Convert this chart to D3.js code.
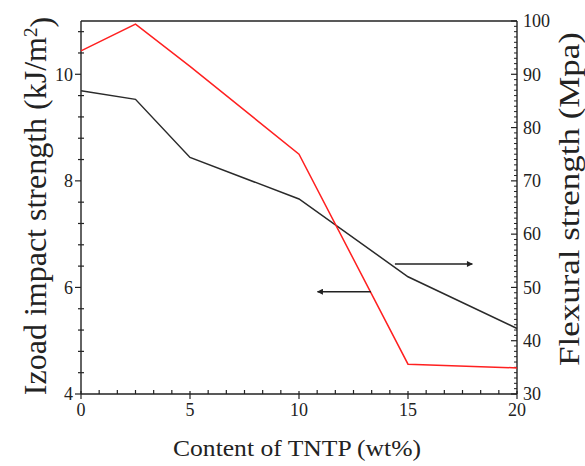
<!DOCTYPE html>
<html>
<head>
<meta charset="utf-8">
<script src="https://cdn.jsdelivr.net/npm/d3@7"></script>
<style>
  body { margin: 0; background: #fff; }
  text { font-family: "Liberation Serif", "Times New Roman", serif; fill: #222; }
</style>
</head>
<body>
<svg id="chart" width="585" height="466"></svg>
<script>
// data
const contents = [0, 2.5, 5, 10, 15, 20];
const impact = [10.44, 10.94, 10.15, 8.50, 4.56, 4.49];     // kJ/m2, left axis
const flexural = [86.9, 85.3, 74.4, 66.6, 52.0, 42.3];      // Mpa, right axis

const xTicks = [0, 5, 10, 15, 20];
const leftTicks = [4, 6, 8, 10];
const rightTicks = [30, 40, 50, 60, 70, 80, 90, 100];

const svg = d3.select("#chart");
const margin = { top: 21, right: 68, bottom: 72, left: 81 };
const width = 585 - margin.left - margin.right;
const height = 466 - margin.top - margin.bottom;

const g = svg.append("g")
    .attr("transform", `translate(${margin.left},${margin.top})`);

// scales
const x = d3.scaleLinear().domain([0, 20]).range([0, width]);
const yL = d3.scaleLinear().domain([4, 11]).range([height, 0]);
const yR = d3.scaleLinear().domain([30, 100]).range([height, 0]);

const axisColor = "#222";

// frame: left, bottom, right, top
g.append("line").attr("x1", 0).attr("x2", 0).attr("y1", 0).attr("y2", height)
    .attr("stroke", axisColor).attr("stroke-width", 1.4);
g.append("line").attr("x1", 0).attr("x2", width).attr("y1", height).attr("y2", height)
    .attr("stroke", axisColor).attr("stroke-width", 1.4);
g.append("line").attr("x1", width).attr("x2", width).attr("y1", 0).attr("y2", height)
    .attr("stroke", axisColor).attr("stroke-width", 1.4);
g.append("line").attr("x1", 0).attr("x2", width).attr("y1", 0).attr("y2", 0)
    .attr("stroke", axisColor).attr("stroke-width", 1.4);

// bottom ticks
const xMinor = d3.range(0, 24).map(i => i * 5 / 6).filter(v => v <= 20 && Math.abs(v - Math.round(v / 5) * 5) > 1e-6);
g.selectAll(".xminor").data(xMinor).enter().append("line")
    .attr("x1", d => x(d)).attr("x2", d => x(d))
    .attr("y1", height - 4).attr("y2", height)
    .attr("stroke", axisColor).attr("stroke-width", 1.2);
g.selectAll(".xmajor").data(xTicks).enter().append("line")
    .attr("x1", d => x(d)).attr("x2", d => x(d))
    .attr("y1", height - 3).attr("y2", height + 5)
    .attr("stroke", axisColor).attr("stroke-width", 1.2);
g.selectAll(".xlabel").data(xTicks).enter().append("text")
    .attr("x", d => x(d)).attr("y", height + 22)
    .attr("text-anchor", "middle")
    .style("font-size", "18px")
    .text(d => d);

// left ticks
const leftMinor = d3.range(4, 11.01, 0.4).filter(v => Math.abs(v - Math.round(v / 2) * 2) > 1e-6);
g.selectAll(".lminor").data(leftMinor).enter().append("line")
    .attr("x1", -3).attr("x2", 3)
    .attr("y1", d => yL(d)).attr("y2", d => yL(d))
    .attr("stroke", axisColor).attr("stroke-width", 1.2);
g.selectAll(".lmajor").data(leftTicks).enter().append("line")
    .attr("x1", -6).attr("x2", 0)
    .attr("y1", d => yL(d)).attr("y2", d => yL(d))
    .attr("stroke", axisColor).attr("stroke-width", 1.2);
g.selectAll(".llabel").data(leftTicks).enter().append("text")
    .attr("x", -8).attr("y", d => yL(d))
    .attr("dy", "0.35em")
    .attr("text-anchor", "end")
    .style("font-size", "18px")
    .text(d => d);

// right ticks
const rightMinor = d3.range(31, 100).filter(v => v % 10 !== 0);
g.selectAll(".rminor").data(rightMinor).enter().append("line")
    .attr("x1", width - 3).attr("x2", width)
    .attr("y1", d => yR(d)).attr("y2", d => yR(d))
    .attr("stroke", axisColor).attr("stroke-width", 1);
g.selectAll(".rmajor").data(rightTicks).enter().append("line")
    .attr("x1", width - 6).attr("x2", width)
    .attr("y1", d => yR(d)).attr("y2", d => yR(d))
    .attr("stroke", axisColor).attr("stroke-width", 1.2);
g.selectAll(".rlabel").data(rightTicks).enter().append("text")
    .attr("x", width + 6).attr("y", d => yR(d))
    .attr("dy", "0.35em")
    .style("font-size", "18px")
    .text(d => d);

// lines
const impactLine = d3.line().x((d, i) => x(contents[i])).y(d => yL(d));
const flexLine = d3.line().x((d, i) => x(contents[i])).y(d => yR(d));

g.append("path").datum(flexural)
    .attr("d", flexLine)
    .attr("fill", "none")
    .attr("stroke", "#2a2a2a")
    .attr("stroke-width", 1.5);

g.append("path").datum(impact)
    .attr("d", impactLine)
    .attr("fill", "none")
    .attr("stroke", "#ff2020")
    .attr("stroke-width", 1.5);

// arrows pointing to each curve's axis
svg.append("defs").append("marker")
    .attr("id", "head")
    .attr("viewBox", "0 0 10 10")
    .attr("refX", 9).attr("refY", 5)
    .attr("markerWidth", 8).attr("markerHeight", 6)
    .attr("markerUnits", "userSpaceOnUse")
    .attr("orient", "auto")
    .append("path")
    .attr("d", "M0,0 L10,5 L0,10 Z")
    .attr("fill", "#222");

g.append("line")
    .attr("x1", x(14.4)).attr("x2", x(17.95))
    .attr("y1", yL(6.44)).attr("y2", yL(6.44))
    .attr("stroke", "#222").attr("stroke-width", 1.5)
    .attr("marker-end", "url(#head)");

g.append("line")
    .attr("x1", x(13.3)).attr("x2", x(10.85))
    .attr("y1", yL(5.92)).attr("y2", yL(5.92))
    .attr("stroke", "#222").attr("stroke-width", 1.5)
    .attr("marker-end", "url(#head)");

// axis titles
svg.append("text")
    .attr("x", 297).attr("y", 456)
    .attr("text-anchor", "middle")
    .attr("textLength", 248)
    .attr("lengthAdjust", "spacingAndGlyphs")
    .style("font-size", "24px")
    .text("Content of TNTP (wt%)");

const leftTitle = svg.append("text")
    .attr("transform", "translate(46,206) rotate(-90)")
    .attr("text-anchor", "middle")
    .style("font-size", "32px");
leftTitle.append("tspan").text("Izoad impact strength (kJ/m");
leftTitle.append("tspan").attr("dy", "-0.45em").style("font-size", "19px").text("2");
leftTitle.append("tspan").attr("dy", "0.45em").text(")");

svg.append("text")
    .attr("transform", "translate(579,199) rotate(-90)")
    .attr("text-anchor", "middle")
    .attr("textLength", 334)
    .attr("lengthAdjust", "spacingAndGlyphs")
    .style("font-size", "30px")
    .text("Flexural strength (Mpa)");
</script>
</body>
</html>
